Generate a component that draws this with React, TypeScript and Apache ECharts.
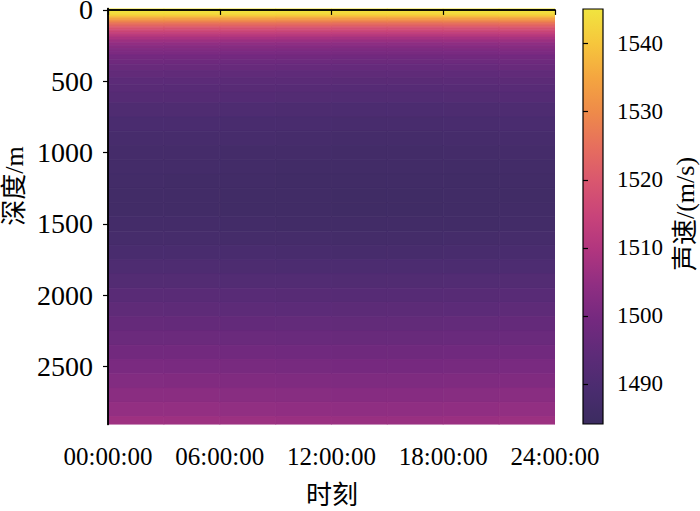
import React, { useEffect, useRef } from "react";
import * as echarts from "echarts";

// Depth levels (m) and the sound-speed profile read at each level (m/s)
const depths = [
  0, 10, 20, 30, 40, 50, 60, 70, 80, 90, 100, 110, 120, 130, 140, 150, 165, 180, 200, 220, 240, 260, 280, 300,
  330, 360, 400, 450, 500, 550, 600, 700, 800, 900, 1000, 1100, 1200, 1300, 1400, 1500, 1600, 1700, 1800, 1900,
  2000, 2100, 2200, 2300, 2400, 2500, 2600, 2700, 2800, 2900,
];
const speedProfile = [
  1545.0, 1544.8, 1544.2, 1543.2, 1541.2, 1538.3, 1535.2, 1532.2, 1529.6, 1527.1, 1525.0, 1523.0, 1521.0,
  1519.0, 1517.2, 1515.5, 1513.2, 1511.0, 1508.4, 1506.2, 1504.4, 1503.0, 1501.7, 1500.5, 1499.1, 1497.9,
  1496.5, 1495.0, 1493.8, 1492.8, 1491.8, 1490.2, 1489.0, 1488.0, 1487.3, 1486.8, 1486.4, 1486.2, 1486.3,
  1486.8, 1487.6, 1488.7, 1490.0, 1491.4, 1492.9, 1494.3, 1495.7, 1497.1, 1498.6, 1500.1, 1501.6, 1503.2,
  1504.8, 1506.4,
];
// Time columns (hour of day) and the small diurnal offset read for each column (m/s)
const timeHours = [0, 3, 6, 9, 12, 15, 18, 21];
const timeOffset = [0.3, 0.2, 0.0, -0.2, -0.4, -0.4, -0.2, 0.1];

const xTicks = [0, 6, 12, 18, 24];
const yTicks = [0, 500, 1000, 1500, 2000, 2500];
const cbTicks = [1490, 1500, 1510, 1520, 1530, 1540];

const X_MIN = 0;
const X_MAX = 24;
const Y_MIN = -10;
const Y_MAX = 2905;
const C_MIN = 1484.1;
const C_MAX = 1545.1;

const palette = [
  "#3b2c60", "#4a2c6f", "#5d2b78", "#74297f", "#8f2e82", "#b0357f", "#c8437a",
  "#d9566f", "#e66e5e", "#ee8a4a", "#f4a540", "#f6c63c", "#f1e43f",
];

const SERIF = "'Liberation Serif', 'Times New Roman', 'Noto Sans CJK SC', serif";

function buildCells() {
  const cells: number[][] = [];
  for (let t = 0; t < timeHours.length; t++) {
    const x0 = timeHours[t];
    const x1 = t + 1 < timeHours.length ? timeHours[t + 1] : X_MAX;
    for (let d = 0; d < depths.length; d++) {
      const y0 = d === 0 ? Y_MIN : (depths[d - 1] + depths[d]) / 2;
      const y1 = d === depths.length - 1 ? Y_MAX : (depths[d] + depths[d + 1]) / 2;
      cells.push([x0, x1, y0, y1, speedProfile[d] + timeOffset[t]]);
    }
  }
  return cells;
}

export default function App() {
  const ref = useRef<HTMLDivElement>(null);
  useEffect(() => {
    if (!ref.current) return;
    const chart = echarts.init(ref.current, undefined, { renderer: "svg" });
    const axisLineStyle = { color: "#000", width: 1.5 };
    const plain = (v: number) => String(v);
    const option: any = {
      animation: false,
      backgroundColor: "#fff",
      grid: [
        { left: 108, top: 8.5, width: 447, height: 416, outerBoundsMode: "none", containLabel: false },
        { left: 583, top: 9, width: 20, height: 415, outerBoundsMode: "none", containLabel: false },
      ],
      visualMap: {
        type: "continuous",
        show: false,
        min: C_MIN,
        max: C_MAX,
        dimension: 4,
        seriesIndex: 0,
        inRange: { color: palette },
      },
      xAxis: [
        {
          gridIndex: 0,
          type: "value",
          min: X_MIN,
          max: X_MAX,
          interval: 6,
          position: "bottom",
          z: 10,
          axisLine: { show: true, lineStyle: axisLineStyle },
          axisTick: { show: true, length: 5, customValues: xTicks, lineStyle: { color: "#000", width: 1.2 } },
          axisLabel: {
            color: "#000",
            fontFamily: SERIF,
            fontSize: 25,
            margin: 19,
            customValues: xTicks,
            formatter: (v: number) => String(v).padStart(2, "0") + ":00:00",
          },
          splitLine: { show: false },
        },
        {
          gridIndex: 0,
          type: "value",
          min: X_MIN,
          max: X_MAX,
          position: "top",
          z: 10,
          axisLine: { show: true, lineStyle: axisLineStyle },
          axisTick: { show: false },
          axisLabel: { show: false },
          splitLine: { show: false },
        },
        { gridIndex: 1, type: "value", min: 0, max: 1, show: false },
      ],
      yAxis: [
        {
          gridIndex: 0,
          type: "value",
          min: Y_MIN,
          max: Y_MAX,
          inverse: true,
          position: "left",
          z: 10,
          axisLine: { show: true, lineStyle: axisLineStyle },
          axisTick: { show: true, length: 5, customValues: yTicks, lineStyle: { color: "#000", width: 1.2 } },
          axisLabel: {
            color: "#000",
            fontFamily: SERIF,
            fontSize: 28,
            lineHeight: 20,
            margin: 15,
            customValues: yTicks,
            formatter: plain,
          },
          splitLine: { show: false },
        },
        {
          gridIndex: 0,
          type: "value",
          min: Y_MIN,
          max: Y_MAX,
          inverse: true,
          position: "right",
          z: 10,
          axisLine: { show: true, lineStyle: axisLineStyle },
          axisTick: { show: false },
          axisLabel: { show: false },
          splitLine: { show: false },
        },
        {
          gridIndex: 1,
          type: "value",
          min: C_MIN,
          max: C_MAX,
          position: "right",
          z: 10,
          axisLine: { show: false },
          axisTick: { show: true, length: 5, customValues: cbTicks, lineStyle: { color: "#000", width: 1.2 } },
          axisLabel: { color: "#000", fontFamily: SERIF, fontSize: 23, margin: 14, customValues: cbTicks, formatter: plain },
          splitLine: { show: false },
        },
      ],
      series: [
        {
          type: "custom",
          xAxisIndex: 0,
          yAxisIndex: 0,
          clip: true,
          encode: { x: [0, 1], y: [2, 3] },
          data: buildCells(),
          renderItem: (_p: any, api: any) => {
            const a = api.coord([api.value(0), api.value(2)]);
            const b = api.coord([api.value(1), api.value(3)]);
            const color = api.visual("color");
            return {
              type: "rect",
              shape: {
                x: Math.min(a[0], b[0]),
                y: Math.min(a[1], b[1]),
                width: Math.abs(b[0] - a[0]),
                height: Math.abs(b[1] - a[1]),
              },
              style: { fill: color, stroke: color, lineWidth: 0.8 },
            };
          },
        },
        {
          type: "custom",
          xAxisIndex: 2,
          yAxisIndex: 2,
          clip: false,
          encode: { x: [0, 1], y: [2, 3] },
          data: [[0, 1, C_MIN, C_MAX]],
          renderItem: (_p: any, api: any) => {
            const a = api.coord([api.value(0), api.value(3)]);
            const b = api.coord([api.value(1), api.value(2)]);
            const stops = palette
              .map((c, i) => ({ offset: 1 - i / (palette.length - 1), color: c }))
              .reverse();
            return {
              type: "rect",
              shape: { x: a[0], y: a[1], width: b[0] - a[0], height: b[1] - a[1] },
              style: {
                fill: new echarts.graphic.LinearGradient(0, 0, 0, 1, stops),
                stroke: "#000",
                lineWidth: 1.2,
              },
            };
          },
        },
      ],
      graphic: [
        {
          type: "text",
          x: 14,
          y: 186,
          rotation: Math.PI / 2,
          style: {
            text: "深度/m",
            fontFamily: SERIF,
            fontSize: 26,
            fill: "#000",
            align: "center",
            verticalAlign: "middle",
          },
        },
        {
          type: "text",
          x: 332,
          y: 495,
          style: {
            text: "时刻",
            fontFamily: SERIF,
            fontSize: 26,
            fill: "#000",
            align: "center",
            verticalAlign: "middle",
          },
        },
        {
          type: "text",
          x: 685,
          y: 214,
          rotation: Math.PI / 2,
          style: {
            text: "声速/(m/s)",
            fontFamily: SERIF,
            fontSize: 26,
            fill: "#000",
            align: "center",
            verticalAlign: "middle",
          },
        },
      ],
    };
    chart.setOption(option);
    return () => chart.dispose();
  }, []);
  return (
    <div
      ref={ref}
      style={{ position: "fixed", left: 0, top: 0, width: 700, height: 511 }}
    />
  );
}
